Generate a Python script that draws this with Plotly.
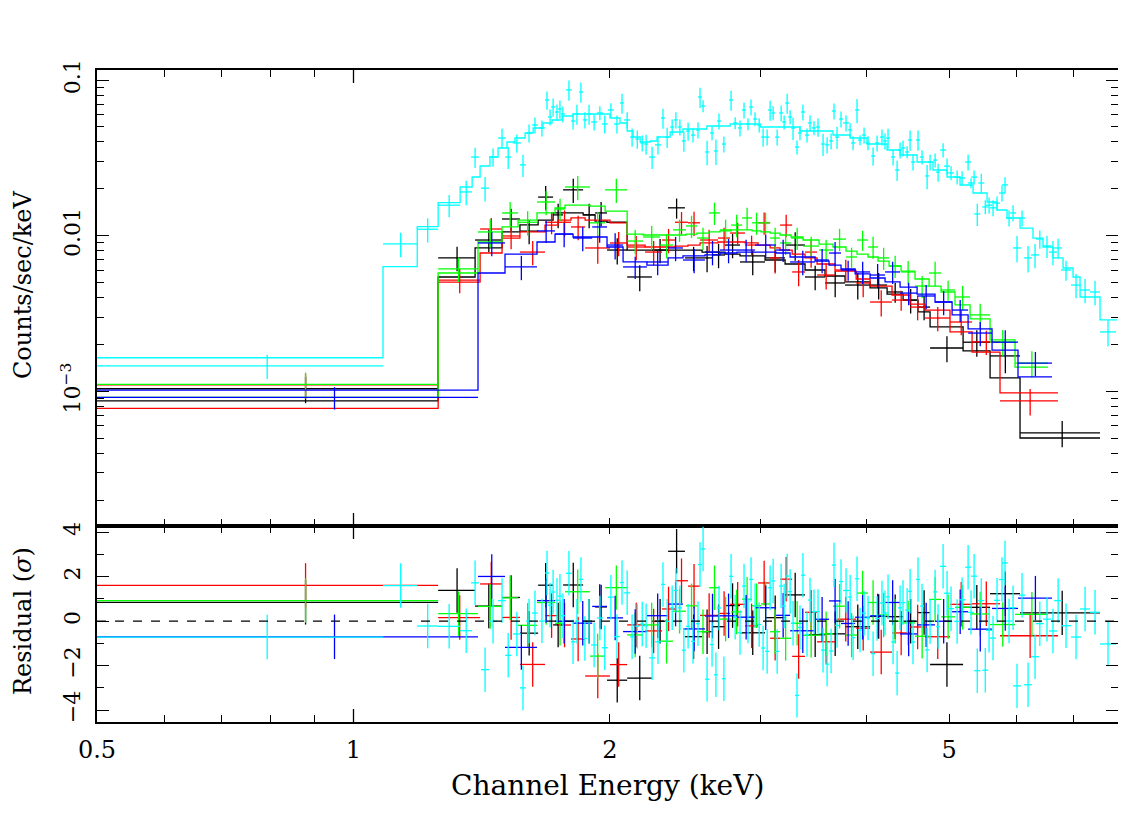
import numpy as np
import plotly.graph_objects as go

# ---------------- data ----------------
# Black dataset: channel-bin edges (keV), model, data rate, 1-sigma error (counts/s/keV)
black_edges = [0.5, 1.257, 1.389, 1.494, 1.568, 1.647, 1.715, 1.762, 1.860, 1.921, 1.984, 2.095, 2.240,
               2.340, 2.449, 2.565, 2.635, 2.729, 2.842, 3.041, 3.210, 3.388, 3.576, 3.775, 4.039, 4.229,
               4.416, 4.598, 4.750, 5.193, 5.586, 6.057, 7.519]
black_model = [0.00087, 0.00543, 0.00834, 0.01057, 0.01172, 0.0126, 0.0140, 0.0140, 0.0136, 0.0124, 0.0122,
               0.00809, 0.00809, 0.00809, 0.00809, 0.00785, 0.00785, 0.00762, 0.00741, 0.00698, 0.00658,
               0.00602, 0.00551, 0.00505, 0.00462, 0.00422, 0.00386, 0.00324, 0.00260, 0.00182, 0.00122,
               0.000502]
black_rate = [0.00104, 0.00720, 0.00938, 0.0128, 0.0107, 0.0177, 0.0136, 0.0197, 0.0136, 0.0140, 0.00809,
              0.00543, 0.00809, 0.0151, 0.00720, 0.00720, 0.00752, 0.00871, 0.00678, 0.00720, 0.00871,
              0.00543, 0.00497, 0.00482, 0.00482, 0.00435, 0.00386, 0.00348, 0.00190, 0.00207, 0.00169,
              0.000541]
black_err = [0.00020, 0.00128, 0.00153, 0.00209, 0.00190, 0.00315, 0.00242, 0.00350, 0.00242, 0.00249,
             0.00155, 0.00104, 0.00144, 0.00223, 0.00128, 0.00138, 0.00134, 0.00155, 0.00121, 0.00138,
             0.00180, 0.00097, 0.00095, 0.00093, 0.00093, 0.00064, 0.00069, 0.00062, 0.00036, 0.00040,
             0.00038, 0.000104]

# Red dataset
red_edges = [0.5, 1.257, 1.408, 1.494, 1.568, 1.678, 1.738, 1.800, 1.870, 2.000, 2.095, 2.199, 2.302,
             2.384, 2.469, 2.551, 2.678, 2.767, 2.881, 2.984, 3.083, 3.167, 3.272, 3.388, 3.500, 3.674,
             3.890, 4.039, 4.286, 4.500, 4.686, 5.013, 5.321, 5.738, 6.712]
red_model = [0.000778, 0.00504, 0.00774, 0.00966, 0.01057, 0.0117, 0.0126, 0.0130, 0.0126, 0.0121,
             0.00871, 0.00846, 0.00846, 0.00858, 0.00871, 0.00898, 0.00911, 0.00911, 0.00898, 0.00871,
             0.00834, 0.00809, 0.00762, 0.00720, 0.00658, 0.00593, 0.00527, 0.00475, 0.00416, 0.00364,
             0.00333, 0.00241, 0.00179, 0.000977]
red_rate = [0.00110, 0.00519, 0.01104, 0.00996, 0.00785, 0.0122, 0.0122, 0.01138, 0.00834, 0.00898,
            0.00846, 0.00785, 0.00938, 0.0122, 0.0121, 0.00938, 0.00966, 0.0104, 0.00871, 0.0121,
            0.00720, 0.0117, 0.00585, 0.00785, 0.00559, 0.00602, 0.00497, 0.00375, 0.00386, 0.00348,
            0.00296, 0.00279, 0.00208, 0.000868]
red_err = [0.00020, 0.00092, 0.00197, 0.00177, 0.00140, 0.00199, 0.00234, 0.00203, 0.00173, 0.00160,
           0.00151, 0.00140, 0.00167, 0.00199, 0.00215, 0.00153, 0.00157, 0.00170, 0.00129, 0.00197,
           0.00149, 0.00191, 0.00112, 0.00162, 0.00107, 0.00098, 0.00095, 0.00072, 0.00057, 0.00062,
           0.00053, 0.00050, 0.00037, 0.000167]

# Green dataset
green_edges = [0.5, 1.257, 1.400, 1.494, 1.560, 1.642, 1.724, 1.771, 1.895, 1.974, 2.095, 2.187, 2.290,
               2.371, 2.456, 2.530, 2.613, 2.692, 2.775, 2.858, 2.936, 3.008, 3.083, 3.167, 3.263, 3.370,
               3.519, 3.654, 3.785, 3.899, 4.017, 4.127, 4.252, 4.392, 4.561, 4.737, 4.893, 5.081, 5.292,
               5.586, 5.976, 6.533]
green_model = [0.000915, 0.00576, 0.00911, 0.01138, 0.0126, 0.0140, 0.01506, 0.0157, 0.01547, 0.0144,
               0.01025, 0.0101, 0.0101, 0.0101, 0.01025, 0.0104, 0.01057, 0.01073, 0.0109, 0.0109,
               0.01073, 0.01057, 0.0104, 0.0101, 0.00981, 0.00938, 0.00884, 0.00846, 0.00797, 0.00762,
               0.00730, 0.00687, 0.00639, 0.00593, 0.00527, 0.00475, 0.00435, 0.00359, 0.00292, 0.00214,
               0.00143]
green_rate = [0.00111, 0.00613, 0.01057, 0.0140, 0.0122, 0.01646, 0.01483, 0.02055, 0.0121, 0.0197,
              0.00924, 0.00981, 0.00871, 0.0109, 0.01155, 0.00966, 0.0140, 0.0109, 0.0117, 0.0130,
              0.0121, 0.0121, 0.00966, 0.00898, 0.00966, 0.00858, 0.00809, 0.00951, 0.00730, 0.00938,
              0.00846, 0.00720, 0.00639, 0.00585, 0.00475, 0.00576, 0.00448, 0.00404, 0.00310, 0.00208,
              0.00152]
green_err = [0.00021, 0.00109, 0.00219, 0.00249, 0.00217, 0.00293, 0.00242, 0.00366, 0.00215, 0.00351,
             0.00164, 0.00175, 0.00155, 0.00178, 0.00188, 0.00157, 0.00228, 0.00178, 0.00191, 0.00212,
             0.00197, 0.00197, 0.00157, 0.00146, 0.00157, 0.00127, 0.00132, 0.00155, 0.00108, 0.00139,
             0.00138, 0.00117, 0.00104, 0.00104, 0.00077, 0.00103, 0.00066, 0.00072, 0.00055, 0.00040,
             0.00029]

# Blue dataset
blue_edges = [0.5, 1.400, 1.506, 1.642, 1.724, 1.810, 1.906, 1.984, 2.072, 2.210, 2.340, 2.436, 2.585,
              2.692, 2.819, 2.960, 3.133, 3.254, 3.481, 3.615, 3.734, 3.879, 4.039, 4.206, 4.380, 4.586,
              4.814, 5.041, 5.264, 5.616, 6.024, 6.604]
blue_model = [0.00102, 0.00576, 0.00762, 0.00911, 0.01025, 0.00981, 0.00981, 0.00846, 0.00678, 0.00648,
              0.00720, 0.00741, 0.00752, 0.00774, 0.00785, 0.00785, 0.00774, 0.00730, 0.00687, 0.00648,
              0.00611, 0.00568, 0.00535, 0.00505, 0.00468, 0.00422, 0.00375, 0.00310, 0.00252, 0.00184,
              0.00124]
blue_rate = [0.000915, 0.00898, 0.00630, 0.01073, 0.01025, 0.00966, 0.01138, 0.00871, 0.00630, 0.00678,
             0.00834, 0.00698, 0.00785, 0.00809, 0.00809, 0.00871, 0.00809, 0.00678, 0.00698, 0.00774,
             0.00602, 0.00585, 0.00559, 0.00585, 0.00428, 0.00410, 0.00375, 0.00333, 0.00237, 0.00207,
             0.00152]
blue_err = [0.00015, 0.00160, 0.00112, 0.00175, 0.00182, 0.00172, 0.00236, 0.00167, 0.00103, 0.00121,
            0.00148, 0.00124, 0.00140, 0.00144, 0.00132, 0.00142, 0.00132, 0.00121, 0.00124, 0.00138,
            0.00089, 0.00095, 0.00100, 0.00095, 0.00070, 0.00073, 0.00067, 0.00054, 0.00042, 0.00040,
            0.00027]

# Cyan dataset: model step (own edges) and data points (centre, half width, rate, error)
cyan_model_edges = [0.5, 1.083, 1.188, 1.257, 1.334, 1.378, 1.408, 1.446, 1.478, 1.514, 1.547, 1.590,
                    1.625, 1.669, 1.710, 1.757, 1.810, 2.000, 2.055, 2.095, 2.129, 2.170, 2.229, 2.271,
                    2.353, 2.436, 2.599, 2.767, 3.001, 3.342, 3.654, 3.827, 4.006, 4.229, 4.380, 4.586,
                    4.788, 4.973, 5.151, 5.335, 5.541, 5.692, 5.848, 6.057, 6.273, 6.445, 6.622, 6.804,
                    6.990, 7.124, 7.519, 7.872]
cyan_model = [0.001645, 0.00632, 0.01142, 0.01629, 0.02055, 0.02382, 0.02804, 0.03201, 0.03659, 0.03997,
              0.04241, 0.04567, 0.04916, 0.05295, 0.05535, 0.05872, 0.06048, 0.05700, 0.05295, 0.04703,
              0.04303, 0.03997, 0.04056, 0.04303, 0.04634, 0.04844, 0.05066, 0.05218, 0.04990, 0.04703,
              0.04433, 0.04241, 0.03882, 0.03552, 0.03298, 0.02974, 0.02642, 0.02382, 0.02116, 0.01880,
              0.01646, 0.01462, 0.01299, 0.01120, 0.00966, 0.00846, 0.00720, 0.00620, 0.00543, 0.00404,
              0.00288]
cyan_energy = [0.792, 1.136, 1.222, 1.295, 1.356, 1.389, 1.427, 1.458, 1.494, 1.519,
               1.555, 1.581, 1.607, 1.633, 1.664, 1.687, 1.701, 1.715, 1.733, 1.747,
               1.761, 1.790, 1.810, 1.829, 1.849, 1.869, 1.890, 1.916, 1.946, 1.972,
               2.005, 2.038, 2.066, 2.095, 2.123, 2.153, 2.182, 2.205, 2.241, 2.277,
               2.308, 2.334, 2.366, 2.390, 2.416, 2.442, 2.470, 2.503, 2.537, 2.551,
               2.572, 2.600, 2.635, 2.663, 2.685, 2.721, 2.774, 2.805, 2.842, 2.873,
               2.904, 2.928, 2.960, 2.993, 3.025, 3.058, 3.083, 3.108, 3.142, 3.176,
               3.202, 3.228, 3.254, 3.280, 3.315, 3.342, 3.369, 3.406, 3.434, 3.471,
               3.509, 3.557, 3.596, 3.635, 3.664, 3.694, 3.734, 3.785, 3.827, 3.858,
               3.899, 3.931, 3.974, 4.017, 4.072, 4.116, 4.171, 4.205, 4.240, 4.298,
               4.345, 4.380, 4.415, 4.464, 4.500, 4.536, 4.598, 4.648, 4.712, 4.750,
               4.815, 4.854, 4.920, 4.973, 5.027, 5.110, 5.179, 5.264, 5.306, 5.350,
               5.396, 5.455, 5.514, 5.571, 5.631, 5.692, 5.769, 5.816, 5.880, 5.944,
               6.008, 6.090, 6.190, 6.308, 6.390, 6.515, 6.621, 6.714, 6.859, 7.047,
               7.221, 7.418, 7.683]
cyan_halfwidth = [0.292, 0.053, 0.035, 0.039, 0.022, 0.015, 0.0154, 0.0157, 0.0161, 0.0123,
                  0.0168, 0.0128, 0.013, 0.0132, 0.0135, 0.0091, 0.0092, 0.0093, 0.0094, 0.0094,
                  0.0095, 0.0145, 0.0098, 0.0099, 0.010, 0.0101, 0.0102, 0.0155, 0.0158, 0.016,
                  0.0162, 0.0165, 0.0112, 0.017, 0.0115, 0.0116, 0.0118, 0.0119, 0.0182, 0.0184,
                  0.0125, 0.0126, 0.0128, 0.0129, 0.013, 0.0132, 0.0133, 0.0135, 0.0137, 0.0138,
                  0.0139, 0.014, 0.0142, 0.0144, 0.0145, 0.0147, 0.015, 0.0151, 0.0153, 0.0155,
                  0.0157, 0.0158, 0.016, 0.0162, 0.0163, 0.0165, 0.0166, 0.0168, 0.017, 0.0172,
                  0.0173, 0.0174, 0.0176, 0.0177, 0.0179, 0.018, 0.0182, 0.0184, 0.0185, 0.0187,
                  0.0189, 0.0192, 0.0194, 0.0196, 0.0198, 0.0199, 0.0202, 0.0307, 0.0207, 0.0208,
                  0.0211, 0.0212, 0.0215, 0.0217, 0.022, 0.0222, 0.0225, 0.0227, 0.0229, 0.0232,
                  0.0235, 0.0237, 0.0238, 0.0241, 0.0243, 0.0245, 0.0248, 0.0251, 0.0254, 0.0257,
                  0.026, 0.0262, 0.0399, 0.0403, 0.0407, 0.0414, 0.042, 0.0426, 0.043, 0.0433,
                  0.0437, 0.0442, 0.0447, 0.0451, 0.0456, 0.0461, 0.0467, 0.0471, 0.0476, 0.0481,
                  0.0649, 0.0493, 0.0669, 0.0681, 0.069, 0.0704, 0.0715, 0.0725, 0.0926, 0.0951,
                  0.0975, 0.100, 0.166]
cyan_rate = [0.00146, 0.00885, 0.0110, 0.0157, 0.0191, 0.0320, 0.0202, 0.0320, 0.0424, 0.0320,
             0.0394, 0.0285, 0.0457, 0.0514, 0.0492, 0.0744, 0.0579, 0.0671, 0.0623, 0.0651,
             0.0605, 0.0863, 0.0545, 0.0605, 0.0838, 0.0554, 0.0605, 0.0537, 0.0614, 0.0522,
             0.0642, 0.0522, 0.0712, 0.0554, 0.0430, 0.0418, 0.0394, 0.0388, 0.0320, 0.0383,
             0.0570, 0.0430, 0.0499, 0.0554, 0.0499, 0.0406, 0.0470, 0.0443, 0.0478, 0.0777,
             0.0681, 0.0345, 0.0457, 0.0350, 0.0545, 0.0388, 0.0744, 0.0530, 0.0492, 0.0642,
             0.0522, 0.0671, 0.0562, 0.0514, 0.0430, 0.0430, 0.0642, 0.0614, 0.0430, 0.0614,
             0.0537, 0.0712, 0.0579, 0.0492, 0.0371, 0.0457, 0.0623, 0.0443, 0.0530, 0.0492,
             0.0499, 0.0388, 0.0383, 0.0406, 0.0632, 0.0430, 0.0562, 0.0530, 0.0478, 0.0394,
             0.0642, 0.0412, 0.0443, 0.0394, 0.0325, 0.0394, 0.0430, 0.0406, 0.0424, 0.0320,
             0.0264, 0.0355, 0.0366, 0.0345, 0.0412, 0.0297, 0.0412, 0.0320, 0.0242, 0.0297,
             0.0306, 0.0256, 0.0355, 0.0280, 0.0253, 0.0238, 0.0235, 0.0297, 0.0218, 0.0238,
             0.0138, 0.0218, 0.0153, 0.0157, 0.0151, 0.0162, 0.0188, 0.0212, 0.0130, 0.0140,
             0.00834, 0.0130, 0.00720, 0.00752, 0.00952, 0.00859, 0.00785, 0.00834, 0.00602, 0.00482,
             0.00448, 0.00435, 0.00241]
cyan_err = [0.00026, 0.00158, 0.00196, 0.00256, 0.0034, 0.00474, 0.0036, 0.00426, 0.00627, 0.0052,
            0.00525, 0.00464, 0.00609, 0.00609, 0.00583, 0.00991, 0.00686, 0.00894, 0.00738, 0.00867,
            0.00716, 0.0128, 0.00645, 0.00895, 0.0124, 0.00656, 0.00895, 0.00636, 0.00636, 0.00695,
            0.00665, 0.00695, 0.0105, 0.00656, 0.00573, 0.00557, 0.00466, 0.00574, 0.0052, 0.0051,
            0.00844, 0.00636, 0.00591, 0.00656, 0.00591, 0.00601, 0.00626, 0.00459, 0.00566, 0.0115,
            0.00605, 0.0062, 0.00473, 0.0065, 0.00645, 0.00459, 0.0110, 0.00471, 0.00583, 0.0076,
            0.00464, 0.00794, 0.00582, 0.00533, 0.00573, 0.00509, 0.0095, 0.00636, 0.00509, 0.00727,
            0.00556, 0.0105, 0.0060, 0.0080, 0.00384, 0.00473, 0.00738, 0.00459, 0.00628, 0.0051,
            0.00665, 0.00632, 0.00453, 0.00481, 0.00748, 0.0070, 0.00665, 0.00628, 0.00495, 0.00408,
            0.0114, 0.00305, 0.00525, 0.00408, 0.00433, 0.00466, 0.00509, 0.00481, 0.00628, 0.00379,
            0.00391, 0.0042, 0.00433, 0.00306, 0.0061, 0.00352, 0.0061, 0.00332, 0.0043, 0.00352,
            0.00317, 0.00341, 0.00368, 0.00332, 0.00262, 0.00247, 0.00243, 0.00352, 0.00161, 0.00247,
            0.00225, 0.00323, 0.00159, 0.00186, 0.00179, 0.00168, 0.00223, 0.00251, 0.00154, 0.00166,
            0.0016, 0.00154, 0.0014, 0.00134, 0.00127, 0.0014, 0.00139, 0.00123, 0.00089, 0.00086,
            0.0008, 0.00077, 0.00046]

x_tick_vals = [0.5, 1, 2, 5]
x_tick_text = ["0.5", "1", "2", "5"]
x_minor_vals = [0.6, 0.7, 0.8, 0.9, 3, 4, 6, 7]
y_tick_vals = [0.001, 0.01, 0.1]
y_tick_text = ["10<sup>\u22123</sup>", "0.01", "0.1"]
y_minor_vals = [k * 10.0 ** p for p in (-4, -3, -2) for k in range(2, 10)]
r_tick_vals = [-4, -2, 0, 2, 4]
r_tick_text = ["\u22124", "\u22122", "0", "2", "4"]
r_minor_vals = [-3, -1, 1, 3]

# ---------------- figure ----------------
LW = 1.3
FONT = "DejaVu Serif"
fig = go.Figure()


def add_dataset(xc, hw, rate, err, medges, model, resid, color):
    fig.add_trace(go.Scatter(x=medges, y=list(model) + [model[-1]], mode="lines",
                             line=dict(color=color, width=LW, shape="hv"),
                             xaxis="x", yaxis="y", hoverinfo="skip", showlegend=False))
    fig.add_trace(go.Scatter(x=xc, y=rate, mode="markers", marker=dict(size=1, color=color),
                             error_x=dict(type="data", array=hw, color=color, thickness=LW, width=0),
                             error_y=dict(type="data", array=err, color=color, thickness=LW, width=0),
                             xaxis="x", yaxis="y", hoverinfo="skip", showlegend=False))
    fig.add_trace(go.Scatter(x=xc, y=resid, mode="markers", marker=dict(size=1, color=color),
                             error_x=dict(type="data", array=hw, color=color, thickness=LW, width=0),
                             error_y=dict(type="constant", value=1, color=color, thickness=LW, width=0),
                             xaxis="x2", yaxis="y2", hoverinfo="skip", showlegend=False))


for edges, model, rate, err, color in [
    (black_edges, black_model, black_rate, black_err, "#000000"),
    (red_edges, red_model, red_rate, red_err, "#ff0000"),
    (green_edges, green_model, green_rate, green_err, "#00ff00"),
    (blue_edges, blue_model, blue_rate, blue_err, "#0000ff"),
]:
    e = np.array(edges)
    xc = (e[:-1] + e[1:]) / 2
    hw = (e[1:] - e[:-1]) / 2
    resid = (np.array(rate) - np.array(model)) / np.array(err)
    add_dataset(xc, hw, rate, err, edges, model, resid, color)

idx = np.searchsorted(np.array(cyan_model_edges), np.array(cyan_energy), side="right") - 1
cyan_model_at_data = np.array(cyan_model)[idx]
cyan_resid = (np.array(cyan_rate) - cyan_model_at_data) / np.array(cyan_err)
add_dataset(cyan_energy, cyan_halfwidth, cyan_rate, cyan_err, cyan_model_edges, cyan_model,
            cyan_resid, "#00ffff")

split = (722 - 526) / 652.0
common = dict(showline=True, linecolor="black", linewidth=1.5, mirror="ticks", showgrid=False,
              zeroline=False, ticks="inside", tickcolor="black", tickwidth=1.3, automargin=False)
minor_common = dict(tickmode="array", ticks="inside", ticklen=7, tickwidth=1.3, tickcolor="black",
                    showgrid=False)

# long major ticks at 1 keV (top edge, panel boundary, bottom edge)
long_ticks = [
    dict(type="line", xref="x", yref="y domain", x0=1, x1=1, ysizemode="pixel", yanchor=1,
         y0=-13, y1=0, line=dict(color="black", width=1.3)),
    dict(type="line", xref="x", yref="y2 domain", x0=1, x1=1, ysizemode="pixel", yanchor=1,
         y0=-13, y1=13, line=dict(color="black", width=1.3)),
    dict(type="line", xref="x", yref="y2 domain", x0=1, x1=1, ysizemode="pixel", yanchor=0,
         y0=0, y1=13, line=dict(color="black", width=1.3)),
]

fig.update_layout(
    width=1118, height=822,
    margin=dict(l=89, r=8, t=62, b=108, autoexpand=False),
    paper_bgcolor="white", plot_bgcolor="white",
    showlegend=False,
    font=dict(family=FONT, size=21, color="black"),
    xaxis=dict(type="log", range=[np.log10(0.5), np.log10(7.893)], domain=[0, 1], anchor="y",
               tickmode="array", tickvals=x_tick_vals, ticktext=x_tick_text, showticklabels=False,
               ticklen=8, minor=dict(tickvals=x_minor_vals, **minor_common), **common),
    xaxis2=dict(type="log", range=[np.log10(0.5), np.log10(7.893)], domain=[0, 1], anchor="y2",
                matches="x", tickmode="array", tickvals=x_tick_vals, ticktext=x_tick_text,
                ticklen=8, ticklabelstandoff=5, tickfont=dict(size=24),
                minor=dict(tickvals=x_minor_vals, **minor_common), **common),
    yaxis=dict(type="log", range=[-3.8645, -0.9358], domain=[split, 1], anchor="x",
               tickmode="array", tickvals=y_tick_vals, ticktext=y_tick_text, tickangle=-90,
               ticklen=12, ticklabelstandoff=6, tickfont=dict(size=22),
               minor=dict(tickvals=y_minor_vals, **minor_common), **common),
    yaxis2=dict(range=[-4.53, 4.28], domain=[0, split], anchor="x2",
                tickmode="array", tickvals=r_tick_vals, ticktext=r_tick_text, tickangle=-90,
                ticklen=12, ticklabelstandoff=6, tickfont=dict(size=22),
                minor=dict(tickvals=r_minor_vals, **minor_common), **common),
    shapes=[dict(type="line", xref="x2 domain", yref="y2", x0=0, x1=1, y0=0, y1=0,
                 line=dict(color="black", width=1.3, dash="dash"), layer="above")] + long_ticks,
    annotations=[
        dict(text="Channel Energy (keV)", xref="paper", yref="paper", x=0.5, y=(722 - 785) / 652.0,
             showarrow=False, xanchor="center", yanchor="middle", font=dict(size=28)),
        dict(text="Counts/sec/keV", xref="paper", yref="paper", x=(23 - 97) / 1021.0,
             y=(722 - 285) / 652.0, showarrow=False, textangle=-90, xanchor="center",
             yanchor="middle", font=dict(size=24)),
        dict(text="Residual (<i>\u03c3</i>)", xref="paper", yref="paper", x=(23 - 97) / 1021.0,
             y=(722 - 621) / 652.0, showarrow=False, textangle=-90, xanchor="center",
             yanchor="middle", font=dict(size=24)),
    ],
)

fig.write_html("out.html")
